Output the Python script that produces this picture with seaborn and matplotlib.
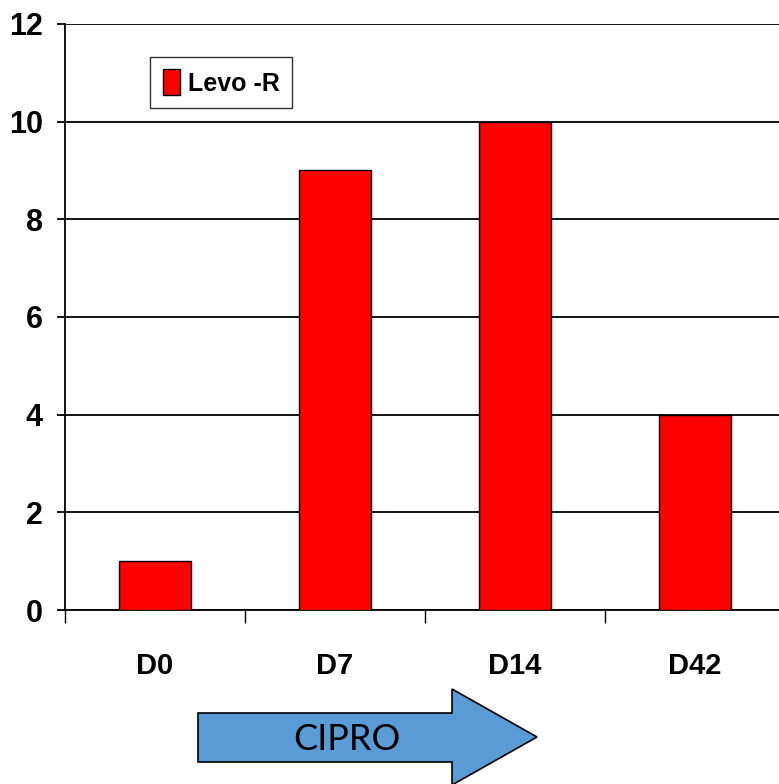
import matplotlib
matplotlib.use("Agg")
import matplotlib.pyplot as plt
from matplotlib.patches import Polygon, Patch
import seaborn as sns
import pandas as pd

# Levofloxacin-resistant counts by sampling day
days = ["D0", "D7", "D14", "D42"]
levo_r = [1, 9, 10, 4]
series_name = "Levo -R"
y_ticks = [0, 2, 4, 6, 8, 10, 12]

df = pd.DataFrame({"day": days, "count": levo_r})

sns.set_theme(style="white")
plt.rcParams["font.family"] = ["Liberation Sans Narrow", "Liberation Sans", "DejaVu Sans"]
plt.rcParams["text.color"] = "black"
plt.rcParams["xtick.color"] = "black"
plt.rcParams["ytick.color"] = "black"

W, H = 779, 784
fig = plt.figure(figsize=(W / 100, H / 100), dpi=100)
ax = fig.add_axes([65 / W, 1 - 610 / H, 720 / W, (610 - 24) / H])

sns.barplot(data=df, x="day", y="count", color="#FF0000", width=0.4,
            edgecolor="black", linewidth=1.0, saturation=1, ax=ax, zorder=3)

ax.set_ylim(0, 12)
ax.set_xlim(-0.5, len(days) - 0.5)
ax.set_yticks(y_ticks)
ax.yaxis.grid(True, color="black", linewidth=1.3, zorder=0)
ax.set_axisbelow(True)
ax.set_xlabel("")
ax.set_ylabel("")

for s in ["top", "right"]:
    ax.spines[s].set_visible(False)
for s in ["left", "bottom"]:
    ax.spines[s].set_color("black")
    ax.spines[s].set_linewidth(1.3)

# category separators as minor ticks, labels on major ticks
ax.set_xticks([i + 0.5 for i in range(-1, len(days))], minor=True)
ax.tick_params(axis="x", which="minor", direction="out", length=9, width=1.0,
               color="black", bottom=True)
ax.tick_params(axis="x", which="major", length=0, pad=30, labelsize=21,
               labelcolor="black")
ax.tick_params(axis="y", which="major", direction="out", length=6, width=1.3,
               color="black", left=True, pad=10, labelsize=22, labelcolor="black")
for lab in ax.get_xticklabels() + ax.get_yticklabels():
    lab.set_fontweight("bold")

leg = ax.legend(handles=[Patch(facecolor="#FF0000", edgecolor="black", label=series_name)],
                loc="upper left", bbox_to_anchor=((150 - 65) / 720, (610 - 57) / 586),
                borderaxespad=0, frameon=True,
                fancybox=False, edgecolor="black", handlelength=0.7, handleheight=1.2,
                handletextpad=0.3, borderpad=0.5,
                prop={"weight": "bold", "size": 18})
leg.get_frame().set_linewidth(1.0)
for t in leg.get_texts():
    t.set_color("black")

# treatment arrow beneath the axis
def fx(px):
    return px / W

def fy(py):
    return 1 - py / H

arrow_pts = [(198, 713), (452, 713), (452, 689), (537, 737), (452, 785),
             (452, 762), (198, 762)]
arrow = Polygon([(fx(x), fy(y)) for x, y in arrow_pts], closed=True,
                transform=fig.transFigure, facecolor="#5B9BD5",
                edgecolor="black", linewidth=1.2, clip_on=False)
fig.patches.append(arrow)
fig.text(fx(347), fy(739), "CIPRO", ha="center", va="center",
         fontsize=26, family=["Lato", "DejaVu Sans"], color="black")

fig.savefig("out.png", dpi=100)
